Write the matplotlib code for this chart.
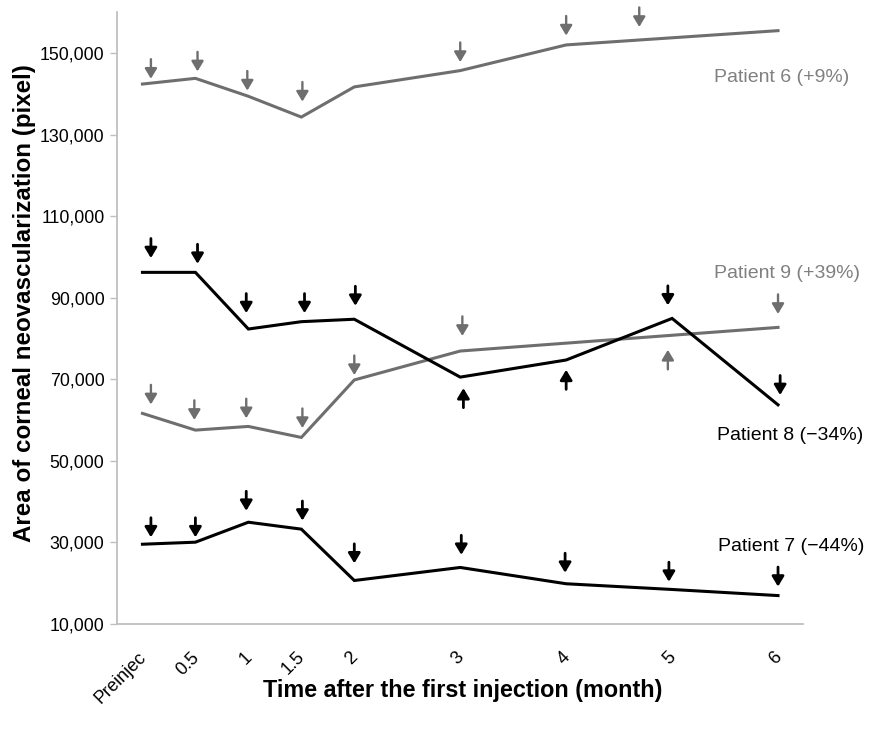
import numpy as np
import matplotlib
matplotlib.use("Agg")
import matplotlib.pyplot as plt
from matplotlib.transforms import ScaledTranslation

plt.rcParams["font.family"] = ["Liberation Sans", "DejaVu Sans"]

# x positions (months after first injection, 0 = pre-injection)
tick_pos = [0, 0.5, 1, 1.5, 2, 3, 4, 5, 6]
tick_labels = ["Preinjec", "0.5", "1", "1.5", "2", "3", "4", "5", "6"]

# measured areas (pixel)
p6_x = [0, 0.5, 1, 1.5, 2, 3, 4, 6]
p6_y = [142400, 143800, 139400, 134300, 141700, 145700, 152000, 155500]
p8_x = [0, 0.5, 1, 1.5, 2, 3, 4, 5, 6]
p8_y = [96200, 96200, 82300, 84100, 84700, 70500, 74700, 84900, 63700]
p9_x = [0, 0.5, 1, 1.5, 2, 3, 6]
p9_y = [61600, 57500, 58400, 55700, 69800, 76900, 82700]
p7_x = [0, 0.5, 1, 1.5, 2, 3, 4, 5, 6]
p7_y = [29500, 30000, 34900, 33200, 20600, 23800, 19800, 18400, 16900]

# injection arrows: x, arrow tip value, direction (-1 = pointing down, 1 = up)
p6_arr_x = [0.08, 0.52, 0.99, 1.51, 3.0, 4.0, 4.69]
p6_arr_tip = [143700, 145500, 140800, 138100, 147800, 154300, 156400]
p6_arr_dir = [-1, -1, -1, -1, -1, -1, -1]
p8_arr_x = [0.08, 0.52, 0.98, 1.53, 2.01, 3.03, 4.0, 4.96, 6.02]
p8_arr_tip = [99700, 98300, 86200, 86200, 88000, 67800, 72300, 88100, 66100]
p8_arr_dir = [-1, -1, -1, -1, -1, 1, 1, -1, -1]
p9_arr_x = [0.08, 0.49, 0.98, 1.51, 2.0, 3.02, 4.96, 6.0]
p9_arr_tip = [63800, 60000, 60400, 58000, 71000, 80600, 77200, 86000]
p9_arr_dir = [-1, -1, -1, -1, -1, -1, 1, -1]
p7_arr_x = [0.08, 0.5, 0.98, 1.51, 2.0, 3.01, 3.99, 4.97, 6.0]
p7_arr_tip = [31200, 31200, 37700, 35300, 24800, 26900, 22500, 20300, 19100]
p7_arr_dir = [-1, -1, -1, -1, -1, -1, -1, -1, -1]

labels = ["Patient 6 (+9%)", "Patient 9 (+39%)", "Patient 8 (\u221234%)", "Patient 7 (\u221244%)"]
label_x = [5.40, 5.40, 5.42, 5.43]
label_y = [144100, 96000, 56100, 28900]

GRAY = "#6e6e6e"
GRAY_TXT = "#808080"
ARROW_LEN = 4800

fig = plt.figure(figsize=(8.7, 7.33), dpi=100)
ax = fig.add_axes([0.1345, 0.1491, 0.789, 0.8341])


def draw_arrows(xs, tips, dirs, color, lw):
    for x, t, d in zip(xs, tips, dirs):
        ax.annotate("", xy=(x, t), xytext=(x, t - d * ARROW_LEN),
                    arrowprops=dict(arrowstyle="-|>,head_length=0.6,head_width=0.36",
                                    color=color, lw=lw, shrinkA=0, shrinkB=0))


ax.plot(p6_x, p6_y, color=GRAY, lw=2.2, solid_joinstyle="miter")
ax.plot(p9_x, p9_y, color=GRAY, lw=2.2, solid_joinstyle="miter")
ax.plot(p8_x, p8_y, color="black", lw=2.2, solid_joinstyle="miter")
ax.plot(p7_x, p7_y, color="black", lw=2.2, solid_joinstyle="miter")

draw_arrows(p6_arr_x, p6_arr_tip, p6_arr_dir, GRAY, 1.7)
draw_arrows(p9_arr_x, p9_arr_tip, p9_arr_dir, GRAY, 1.7)
draw_arrows(p8_arr_x, p8_arr_tip, p8_arr_dir, "black", 2.0)
draw_arrows(p7_arr_x, p7_arr_tip, p7_arr_dir, "black", 2.0)

# series labels
label_colors = [GRAY_TXT, GRAY_TXT, "black", "black"]
for lx, ly, txt, c in zip(label_x, label_y, labels, label_colors):
    ax.text(lx, ly, txt, color=c, fontsize=14, va="center")

ax.set_xlim(-0.24, 6.24)
ax.set_ylim(10000, 160000)
ax.set_yticks(np.arange(10000, 150001, 20000))
ax.set_yticklabels([f"{v:,}" for v in range(10000, 150001, 20000)], fontsize=12.8)
ax.set_xticks(tick_pos)
ax.set_xticklabels(tick_labels, fontsize=13, rotation=45, ha="right",
                   rotation_mode="anchor")
ax.tick_params(axis="x", length=0, pad=18)
ax.tick_params(axis="y", length=5, width=1, color="#bfbfbf", pad=4)
shift = ScaledTranslation(-5 / 100, 0, fig.dpi_scale_trans)
for lab in ax.get_xticklabels():
    lab.set_transform(lab.get_transform() + shift)

for s in ["top", "right"]:
    ax.spines[s].set_visible(False)
for s in ["left", "bottom"]:
    ax.spines[s].set_color("#bfbfbf")
    ax.spines[s].set_linewidth(1.3)

ax.set_xlabel("Time after the first injection (month)", fontsize=16.8,
              fontweight="bold")
ax.xaxis.set_label_coords(0.504, -0.1085)
ax.xaxis.label.set_verticalalignment("center")
ax.set_ylabel("Area of corneal neovascularization (pixel)", fontsize=17.4,
              fontweight="bold")
ax.yaxis.set_label_coords(-0.1355, 0.525)
ax.yaxis.label.set_verticalalignment("center")

fig.savefig("out.png", dpi=100)
